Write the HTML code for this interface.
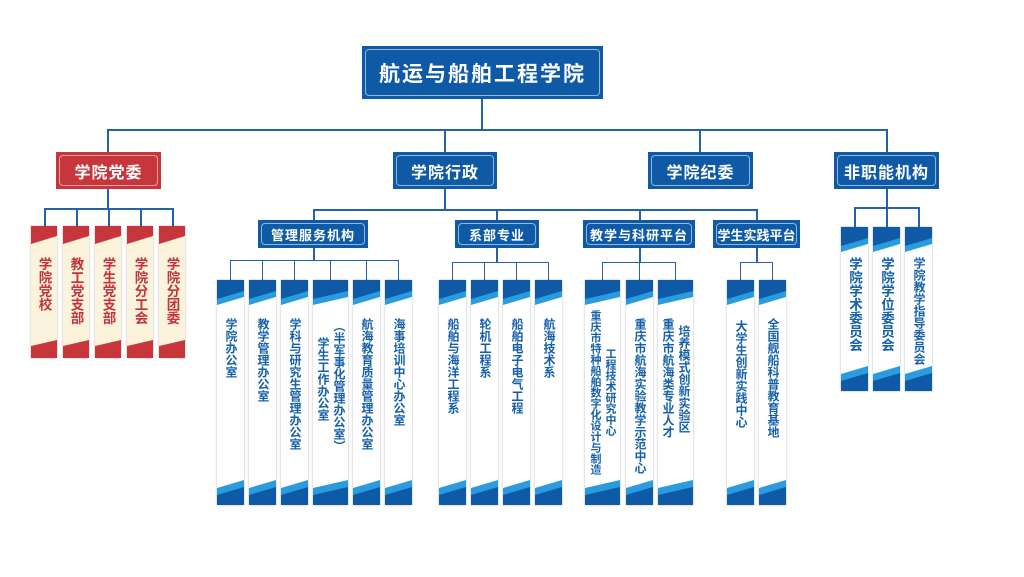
<!DOCTYPE html>
<html><head><meta charset="utf-8"><style>
*{margin:0;padding:0;box-sizing:border-box}
body{width:1024px;height:577px;background:#fff;position:relative;overflow:hidden;font-family:"Liberation Sans","Noto Sans CJK SC",sans-serif;font-weight:bold}
.l{position:absolute;background:#2662a8}
.box{position:absolute;background:#0e5aa6;color:#fff;display:flex;align-items:center;justify-content:center;white-space:nowrap}
.box::after{content:"";position:absolute;left:3px;top:3px;right:3px;bottom:3px;border:1px solid rgba(255,255,255,.55);border-radius:4px}
.red{background:#c8363d}
.card{position:absolute;background:#fff;box-shadow:0 0 2px rgba(0,0,0,.3);top:280px;width:27px;height:225px}
.card svg{position:absolute;left:0;width:100%;height:26px;display:block}
.card svg.t{top:0}.card svg.b{bottom:0}
.rc{background:#fbf3dc;top:226px;width:26px;height:132px}
.nc{top:227px;height:164px}
.tx{position:absolute;left:0;right:0;top:38px;display:flex;justify-content:center;gap:3px;color:#1660aa;font-size:12px;line-height:13px}
.tx div{writing-mode:vertical-rl}
.rt{color:#c4323b;font-size:13.5px;line-height:15px;top:31px}
.nt{font-size:13.5px;line-height:15px;top:30px}
</style></head><body>
<svg width="0" height="0" style="position:absolute">
<defs>
<symbol id="bt" viewBox="0 0 100 26" preserveAspectRatio="none"><polygon points="0,0 100,0 100,17 0,25" fill="#2b9be0"/><polygon points="0,0 100,0 100,11 0,19" fill="#0e5aa6"/></symbol>
<symbol id="bb" viewBox="0 0 100 26" preserveAspectRatio="none"><polygon points="0,9 100,1 100,26 0,26" fill="#2b9be0"/><polygon points="0,16 100,8 100,26 0,26" fill="#0e5aa6"/></symbol>
<symbol id="rt" viewBox="0 0 100 26" preserveAspectRatio="none"><polygon points="0,0 100,0 100,10 0,18" fill="#c8363d"/></symbol>
<symbol id="rb" viewBox="0 0 100 26" preserveAspectRatio="none"><polygon points="0,14 100,8 100,26 0,26" fill="#c8363d"/></symbol>
</defs></svg>

<div class="l" style="left:481px;top:99px;width:2px;height:32px"></div>
<div class="l" style="left:107px;top:129px;width:781px;height:2px"></div>
<div class="l" style="left:107px;top:129px;width:2px;height:23px"></div>
<div class="l" style="left:444px;top:129px;width:2px;height:23px"></div>
<div class="l" style="left:699px;top:129px;width:2px;height:23px"></div>
<div class="l" style="left:886px;top:129px;width:2px;height:23px"></div>

<div class="l" style="left:107px;top:189px;width:2px;height:20px"></div>
<div class="l" style="left:44px;top:208px;width:129px;height:1.5px"></div>
<div class="l" style="left:44px;top:208px;width:1.5px;height:18px"></div>
<div class="l" style="left:76px;top:208px;width:1.5px;height:18px"></div>
<div class="l" style="left:108px;top:208px;width:1.5px;height:18px"></div>
<div class="l" style="left:140px;top:208px;width:1.5px;height:18px"></div>
<div class="l" style="left:172px;top:208px;width:1.5px;height:18px"></div>

<div class="l" style="left:444px;top:189px;width:2px;height:21px"></div>
<div class="l" style="left:313px;top:209px;width:445px;height:1.5px"></div>
<div class="l" style="left:313px;top:209px;width:1.5px;height:12px"></div>
<div class="l" style="left:496px;top:209px;width:1.5px;height:12px"></div>
<div class="l" style="left:639px;top:209px;width:1.5px;height:12px"></div>
<div class="l" style="left:756px;top:209px;width:1.5px;height:12px"></div>

<div class="l" style="left:313px;top:248px;width:1.5px;height:12px"></div>
<div class="l" style="left:230px;top:260px;width:169px;height:1px"></div>
<div class="l" style="left:230px;top:260px;width:1px;height:20px"></div>
<div class="l" style="left:262px;top:260px;width:1px;height:20px"></div>
<div class="l" style="left:294px;top:260px;width:1px;height:20px"></div>
<div class="l" style="left:330px;top:260px;width:1px;height:20px"></div>
<div class="l" style="left:366px;top:260px;width:1px;height:20px"></div>
<div class="l" style="left:398px;top:260px;width:1px;height:20px"></div>

<div class="l" style="left:496px;top:248px;width:1.5px;height:14px"></div>
<div class="l" style="left:452px;top:262px;width:97px;height:1px"></div>
<div class="l" style="left:452px;top:262px;width:1px;height:18px"></div>
<div class="l" style="left:484px;top:262px;width:1px;height:18px"></div>
<div class="l" style="left:516px;top:262px;width:1px;height:18px"></div>
<div class="l" style="left:548px;top:262px;width:1px;height:18px"></div>

<div class="l" style="left:639px;top:248px;width:1.5px;height:14px"></div>
<div class="l" style="left:602px;top:262px;width:74px;height:1px"></div>
<div class="l" style="left:602px;top:262px;width:1px;height:18px"></div>
<div class="l" style="left:639px;top:262px;width:1px;height:18px"></div>
<div class="l" style="left:675px;top:262px;width:1px;height:18px"></div>

<div class="l" style="left:756px;top:248px;width:1.5px;height:14px"></div>
<div class="l" style="left:740px;top:262px;width:33px;height:1px"></div>
<div class="l" style="left:740px;top:262px;width:1px;height:18px"></div>
<div class="l" style="left:772px;top:262px;width:1px;height:18px"></div>

<div class="l" style="left:886px;top:189px;width:2px;height:19px"></div>
<div class="l" style="left:854px;top:207px;width:65px;height:1.5px"></div>
<div class="l" style="left:854px;top:207px;width:1.5px;height:20px"></div>
<div class="l" style="left:886px;top:207px;width:1.5px;height:20px"></div>
<div class="l" style="left:918px;top:207px;width:1.5px;height:20px"></div>

<div class="box" style="left:362px;top:46px;width:241px;height:53px;font-size:21px;letter-spacing:2px">航运与船舶工程学院</div>
<div class="box red" style="left:56px;top:152px;width:105px;height:37px;font-size:16px;letter-spacing:1px">学院党委</div>
<div class="box" style="left:393px;top:152px;width:104px;height:37px;font-size:16px;letter-spacing:1px">学院行政</div>
<div class="box" style="left:648px;top:152px;width:105px;height:37px;font-size:16px;letter-spacing:1px">学院纪委</div>
<div class="box" style="left:834px;top:152px;width:105px;height:37px;font-size:16px;letter-spacing:1px">非职能机构</div>
<div class="box" style="left:258px;top:220px;width:110px;height:28px;font-size:13px;letter-spacing:1px">管理服务机构</div>
<div class="box" style="left:455px;top:220px;width:84px;height:28px;font-size:13px;letter-spacing:1px">系部专业</div>
<div class="box" style="left:583px;top:220px;width:112px;height:28px;font-size:13px;letter-spacing:1px">教学与科研平台</div>
<div class="box" style="left:713px;top:220px;width:87px;height:28px;font-size:13px">学生实践平台</div>

<div class="card rc" style="left:31px"><svg class="t"><use href="#rt"/></svg><svg class="b"><use href="#rb"/></svg><div class="tx rt"><div>学院党校</div></div></div>
<div class="card rc" style="left:63px"><svg class="t"><use href="#rt"/></svg><svg class="b"><use href="#rb"/></svg><div class="tx rt"><div>教工党支部</div></div></div>
<div class="card rc" style="left:95px"><svg class="t"><use href="#rt"/></svg><svg class="b"><use href="#rb"/></svg><div class="tx rt"><div>学生党支部</div></div></div>
<div class="card rc" style="left:127px"><svg class="t"><use href="#rt"/></svg><svg class="b"><use href="#rb"/></svg><div class="tx rt"><div>学院分工会</div></div></div>
<div class="card rc" style="left:159px"><svg class="t"><use href="#rt"/></svg><svg class="b"><use href="#rb"/></svg><div class="tx rt"><div>学院分团委</div></div></div>

<div class="card" style="left:217px"><svg class="t"><use href="#bt"/></svg><svg class="b"><use href="#bb"/></svg><div class="tx"><div>学院办公室</div></div></div>
<div class="card" style="left:249px"><svg class="t"><use href="#bt"/></svg><svg class="b"><use href="#bb"/></svg><div class="tx"><div>教学管理办公室</div></div></div>
<div class="card" style="left:281px"><svg class="t"><use href="#bt"/></svg><svg class="b"><use href="#bb"/></svg><div class="tx"><div>学科与研究生管理办公室</div></div></div>
<div class="card" style="left:313px;width:35px"><svg class="t"><use href="#bt"/></svg><svg class="b"><use href="#bb"/></svg><div class="tx" style="top:40px"><div style="margin-top:17px">学生工作办公室</div><div>（半军事化管理办公室）</div></div></div>
<div class="card" style="left:353px"><svg class="t"><use href="#bt"/></svg><svg class="b"><use href="#bb"/></svg><div class="tx"><div>航海教育质量管理办公室</div></div></div>
<div class="card" style="left:385px"><svg class="t"><use href="#bt"/></svg><svg class="b"><use href="#bb"/></svg><div class="tx"><div>海事培训中心办公室</div></div></div>

<div class="card" style="left:439px"><svg class="t"><use href="#bt"/></svg><svg class="b"><use href="#bb"/></svg><div class="tx"><div>船舶与海洋工程系</div></div></div>
<div class="card" style="left:471px"><svg class="t"><use href="#bt"/></svg><svg class="b"><use href="#bb"/></svg><div class="tx"><div>轮机工程系</div></div></div>
<div class="card" style="left:503px"><svg class="t"><use href="#bt"/></svg><svg class="b"><use href="#bb"/></svg><div class="tx"><div>船舶电子电气工程</div></div></div>
<div class="card" style="left:535px"><svg class="t"><use href="#bt"/></svg><svg class="b"><use href="#bb"/></svg><div class="tx"><div>航海技术系</div></div></div>

<div class="card" style="left:585px;width:35px"><svg class="t"><use href="#bt"/></svg><svg class="b"><use href="#bb"/></svg><div class="tx" style="top:30px;font-size:11px;line-height:12px"><div>重庆市特种船舶数字化设计与制造</div><div style="margin-top:38px">工程技术研究中心</div></div></div>
<div class="card" style="left:626px"><svg class="t"><use href="#bt"/></svg><svg class="b"><use href="#bb"/></svg><div class="tx"><div>重庆市航海实验教学示范中心</div></div></div>
<div class="card" style="left:658px;width:35px"><svg class="t"><use href="#bt"/></svg><svg class="b"><use href="#bb"/></svg><div class="tx"><div>重庆市航海类专业人才</div><div style="margin-top:7px">培养模式创新实验区</div></div></div>

<div class="card" style="left:727px"><svg class="t"><use href="#bt"/></svg><svg class="b"><use href="#bb"/></svg><div class="tx" style="top:40px"><div>大学生创新实践中心</div></div></div>
<div class="card" style="left:759px"><svg class="t"><use href="#bt"/></svg><svg class="b"><use href="#bb"/></svg><div class="tx"><div>全国舰船科普教育基地</div></div></div>

<div class="card nc" style="left:841px"><svg class="t"><use href="#bt"/></svg><svg class="b"><use href="#bb"/></svg><div class="tx nt"><div>学院学术委员会</div></div></div>
<div class="card nc" style="left:873px"><svg class="t"><use href="#bt"/></svg><svg class="b"><use href="#bb"/></svg><div class="tx nt"><div>学院学位委员会</div></div></div>
<div class="card nc" style="left:905px"><svg class="t"><use href="#bt"/></svg><svg class="b"><use href="#bb"/></svg><div class="tx" style="top:30px"><div>学院教学指导委员会</div></div></div>

</body></html>
